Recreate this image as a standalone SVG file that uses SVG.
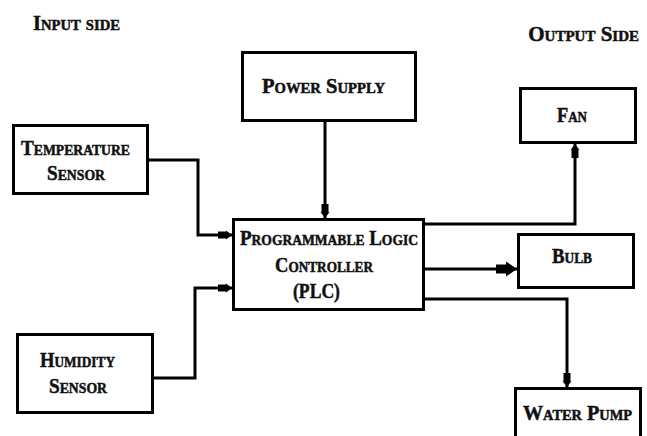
<svg xmlns="http://www.w3.org/2000/svg" width="647" height="436" viewBox="0 0 647 436">
  <style>
    .box { fill: #fff; stroke: #000; stroke-width: 3; }
    .wire { fill: none; stroke: #000; stroke-width: 3; }
    text { font-family: "Liberation Serif", "Times New Roman", serif; font-weight: bold; font-variant: small-caps; font-size: 21px; fill: #111; stroke: #111; stroke-width: 0.5; }
  </style>
  <defs>
    <marker id="arr" markerUnits="userSpaceOnUse" markerWidth="20" markerHeight="14" viewBox="-16 -7 20 14" refX="0" refY="0" orient="auto">
      <path d="M-14,-3.5 L-6,-3.5 L-6,-4.5 L0,0 L-6,4.5 L-6,3.5 L-14,3.5 Z" fill="#000"/>
    </marker>
    <marker id="arrBig" markerUnits="userSpaceOnUse" markerWidth="26" markerHeight="18" viewBox="-23 -9 26 18" refX="0" refY="0" orient="auto">
      <path d="M-21,-4.5 L-11,-4.5 L-11,-7.5 L0,0 L-11,7.5 L-11,4.5 L-21,4.5 Z" fill="#000"/>
    </marker>
  </defs>

  <text x="33" y="30" textLength="87" lengthAdjust="spacingAndGlyphs">Input  side</text>
  <text x="639" y="41" text-anchor="end" font-size="19.5">Output Side</text>

  <g id="connectors">
    <path class="wire" d="M149,160 H198 V235 H232" marker-end="url(#arr)"/>
    <path class="wire" d="M154,378 H195 V288 H232" marker-end="url(#arr)"/>
    <path class="wire" d="M325,122 V218" marker-end="url(#arr)"/>
    <path class="wire" d="M425,224 H575 V144" marker-end="url(#arr)"/>
    <path class="wire" d="M425,269 H517" marker-end="url(#arrBig)"/>
    <path class="wire" d="M425,299 H567 V387" marker-end="url(#arr)"/>
  </g>

  <g id="power-supply">
    <rect class="box" x="242.5" y="52.5" width="173" height="68"/>
    <text x="262" y="92.5" textLength="123" lengthAdjust="spacingAndGlyphs">Power  Supply</text>
  </g>

  <g id="temperature-sensor">
    <rect class="box" x="13.5" y="125.5" width="134" height="68"/>
    <text x="21" y="155" textLength="109" lengthAdjust="spacingAndGlyphs">Temperature</text>
    <text x="47" y="180" textLength="58" lengthAdjust="spacingAndGlyphs">Sensor</text>
  </g>

  <g id="plc">
    <rect class="box" x="233.5" y="219.5" width="190" height="90"/>
    <text x="240" y="245" textLength="178" lengthAdjust="spacingAndGlyphs">Programmable  Logic</text>
    <text x="275" y="272" textLength="98" lengthAdjust="spacingAndGlyphs">Controller</text>
    <text x="293" y="298" textLength="47" lengthAdjust="spacingAndGlyphs">(PLC)</text>
  </g>

  <g id="humidity-sensor">
    <rect class="box" x="17.5" y="334.5" width="135" height="78"/>
    <text x="40" y="367" textLength="75" lengthAdjust="spacingAndGlyphs">Humidity</text>
    <text x="49" y="393" textLength="58" lengthAdjust="spacingAndGlyphs">Sensor</text>
  </g>

  <g id="fan">
    <rect class="box" x="520.5" y="88.5" width="115" height="54"/>
    <text x="557" y="122" textLength="30" lengthAdjust="spacingAndGlyphs">Fan</text>
  </g>

  <g id="bulb">
    <rect class="box" x="518.5" y="234.5" width="115" height="53"/>
    <text x="552" y="263" textLength="40" lengthAdjust="spacingAndGlyphs">Bulb</text>
  </g>

  <g id="water-pump">
    <rect class="box" x="515.5" y="388.5" width="125" height="60"/>
    <text x="523" y="420" textLength="109" lengthAdjust="spacingAndGlyphs">Water  Pump</text>
  </g>
</svg>
